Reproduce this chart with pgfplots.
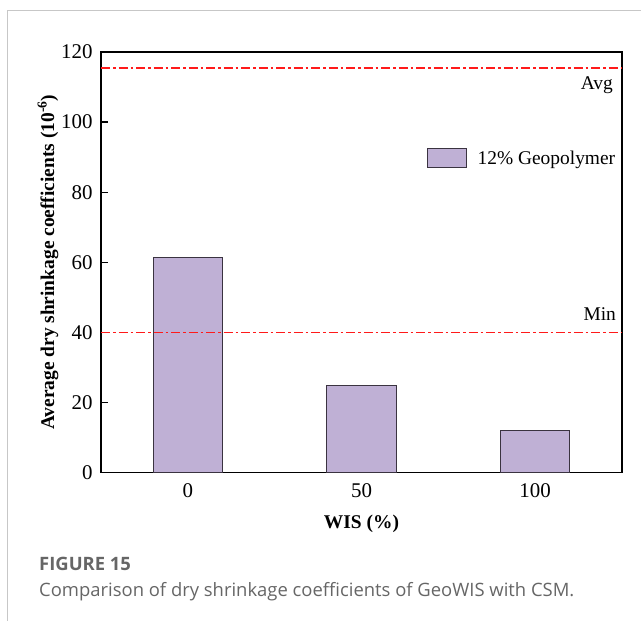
\documentclass[border=0pt]{standalone}
\usepackage{pgfplots}
\pgfplotsset{compat=1.18}
\usepackage{fontspec}
\setmainfont{Liberation Serif}
\newfontfamily\capfont{Open Sans}
\definecolor{barfill}{HTML}{BFB0D5}
\definecolor{baredge}{HTML}{3A3340}
\definecolor{limitred}{HTML}{FF1A1A}
\definecolor{capgray}{HTML}{666666}
\pgfplotsset{
  boxlegend/.style={legend image code/.code={%
    \draw[#1] (0bp,-9.5bp) rectangle (39bp,9.5bp);
    \path[draw=none, fill=none] (0bp,0bp) -- (50bp,0bp);}},
}
\begin{document}
\begin{tikzpicture}
  % page frame
  \useasboundingbox (0bp,0bp) rectangle (641bp,-621bp);
  \draw[black!22, line width=1bp] (7bp,-621bp) -- (7bp,-10bp) -- (641bp,-10bp);
  \begin{axis}[
    at={(101bp,-472.5bp)}, anchor=south west,
    scale only axis, width=521bp, height=420.5bp,
    xmin=-25, xmax=125, ymin=0, ymax=120,
    xtick={0,50,100}, ytick={0,20,...,120},
    tick align=inside, major tick length=7bp,
    xtick pos=bottom, ytick pos=left,
    axis line style={line width=1.5bp},
    tick style={line width=1.2bp, black},
    ticklabel style={font=\fontsize{21}{23}\selectfont},
    xticklabel style={yshift=-8bp},
    yticklabel style={xshift=-5bp},
    /pgf/number format/assume math mode=true,
    xlabel={\textbf{WIS (\%)}},
    xlabel style={font=\fontsize{19.5}{21}\selectfont,
      at={(axis description cs:0.5,-0.122)}, anchor=center},
    ylabel={\textbf{Average dry shrinkage coefficients (10\textsuperscript{-6})}},
    ylabel style={font=\fontsize{19.5}{21}\selectfont,
      at={(axis description cs:-0.1017,0.5)}, anchor=center},
    legend style={at={(rel axis cs:0.6257,0.772)}, anchor=north west, draw=none,
      fill=none, inner sep=0pt, nodes={inner sep=0pt},
      font=\fontsize{19.5}{21}\selectfont},
    legend cell align=left,
    clip=false,
  ]
    \addplot[ybar, bar width=20, fill=barfill, draw=baredge, line width=0.9bp,
      boxlegend]
      coordinates {(0,61.3) (50,24.8) (100,12.0)};
    \addlegendentry{12\% Geopolymer}
    % limit lines: minimum and average
    \addplot[color=limitred, draw=limitred, line width=1.4bp, mark=none, forget plot,
      dash pattern=on 9bp off 3bp on 2.5bp off 3bp]
      coordinates {(-25,40) (125,40)};
    \addplot[color=limitred, draw=limitred, line width=1.4bp, mark=none, forget plot,
      dash pattern=on 9bp off 3bp on 2.5bp off 3bp]
      table[row sep=\\] {x y\\ -25 115.4\\ 125 115.4\\};
    \node[anchor=base east, inner sep=0pt, font=\fontsize{19.5}{21}\selectfont]
      at (axis cs:122.4,109.2) {Avg};
    \node[anchor=base east, inner sep=0pt, font=\fontsize{19.5}{21}\selectfont]
      at (axis cs:123.3,43.5) {Min};
  \end{axis}
  \node[anchor=base west, font=\capfont\fontsize{18.5}{22}\selectfont\bfseries, text=capgray, inner sep=0]
    at (39bp,-570bp) {FIGURE 15};
  \node[anchor=base west, font=\capfont\fontsize{18.5}{22}\selectfont, text=capgray, inner sep=0]
    at (39bp,-596bp) {Comparison of dry shrinkage coefficients of GeoWIS with CSM.};
\end{tikzpicture}
\end{document}
